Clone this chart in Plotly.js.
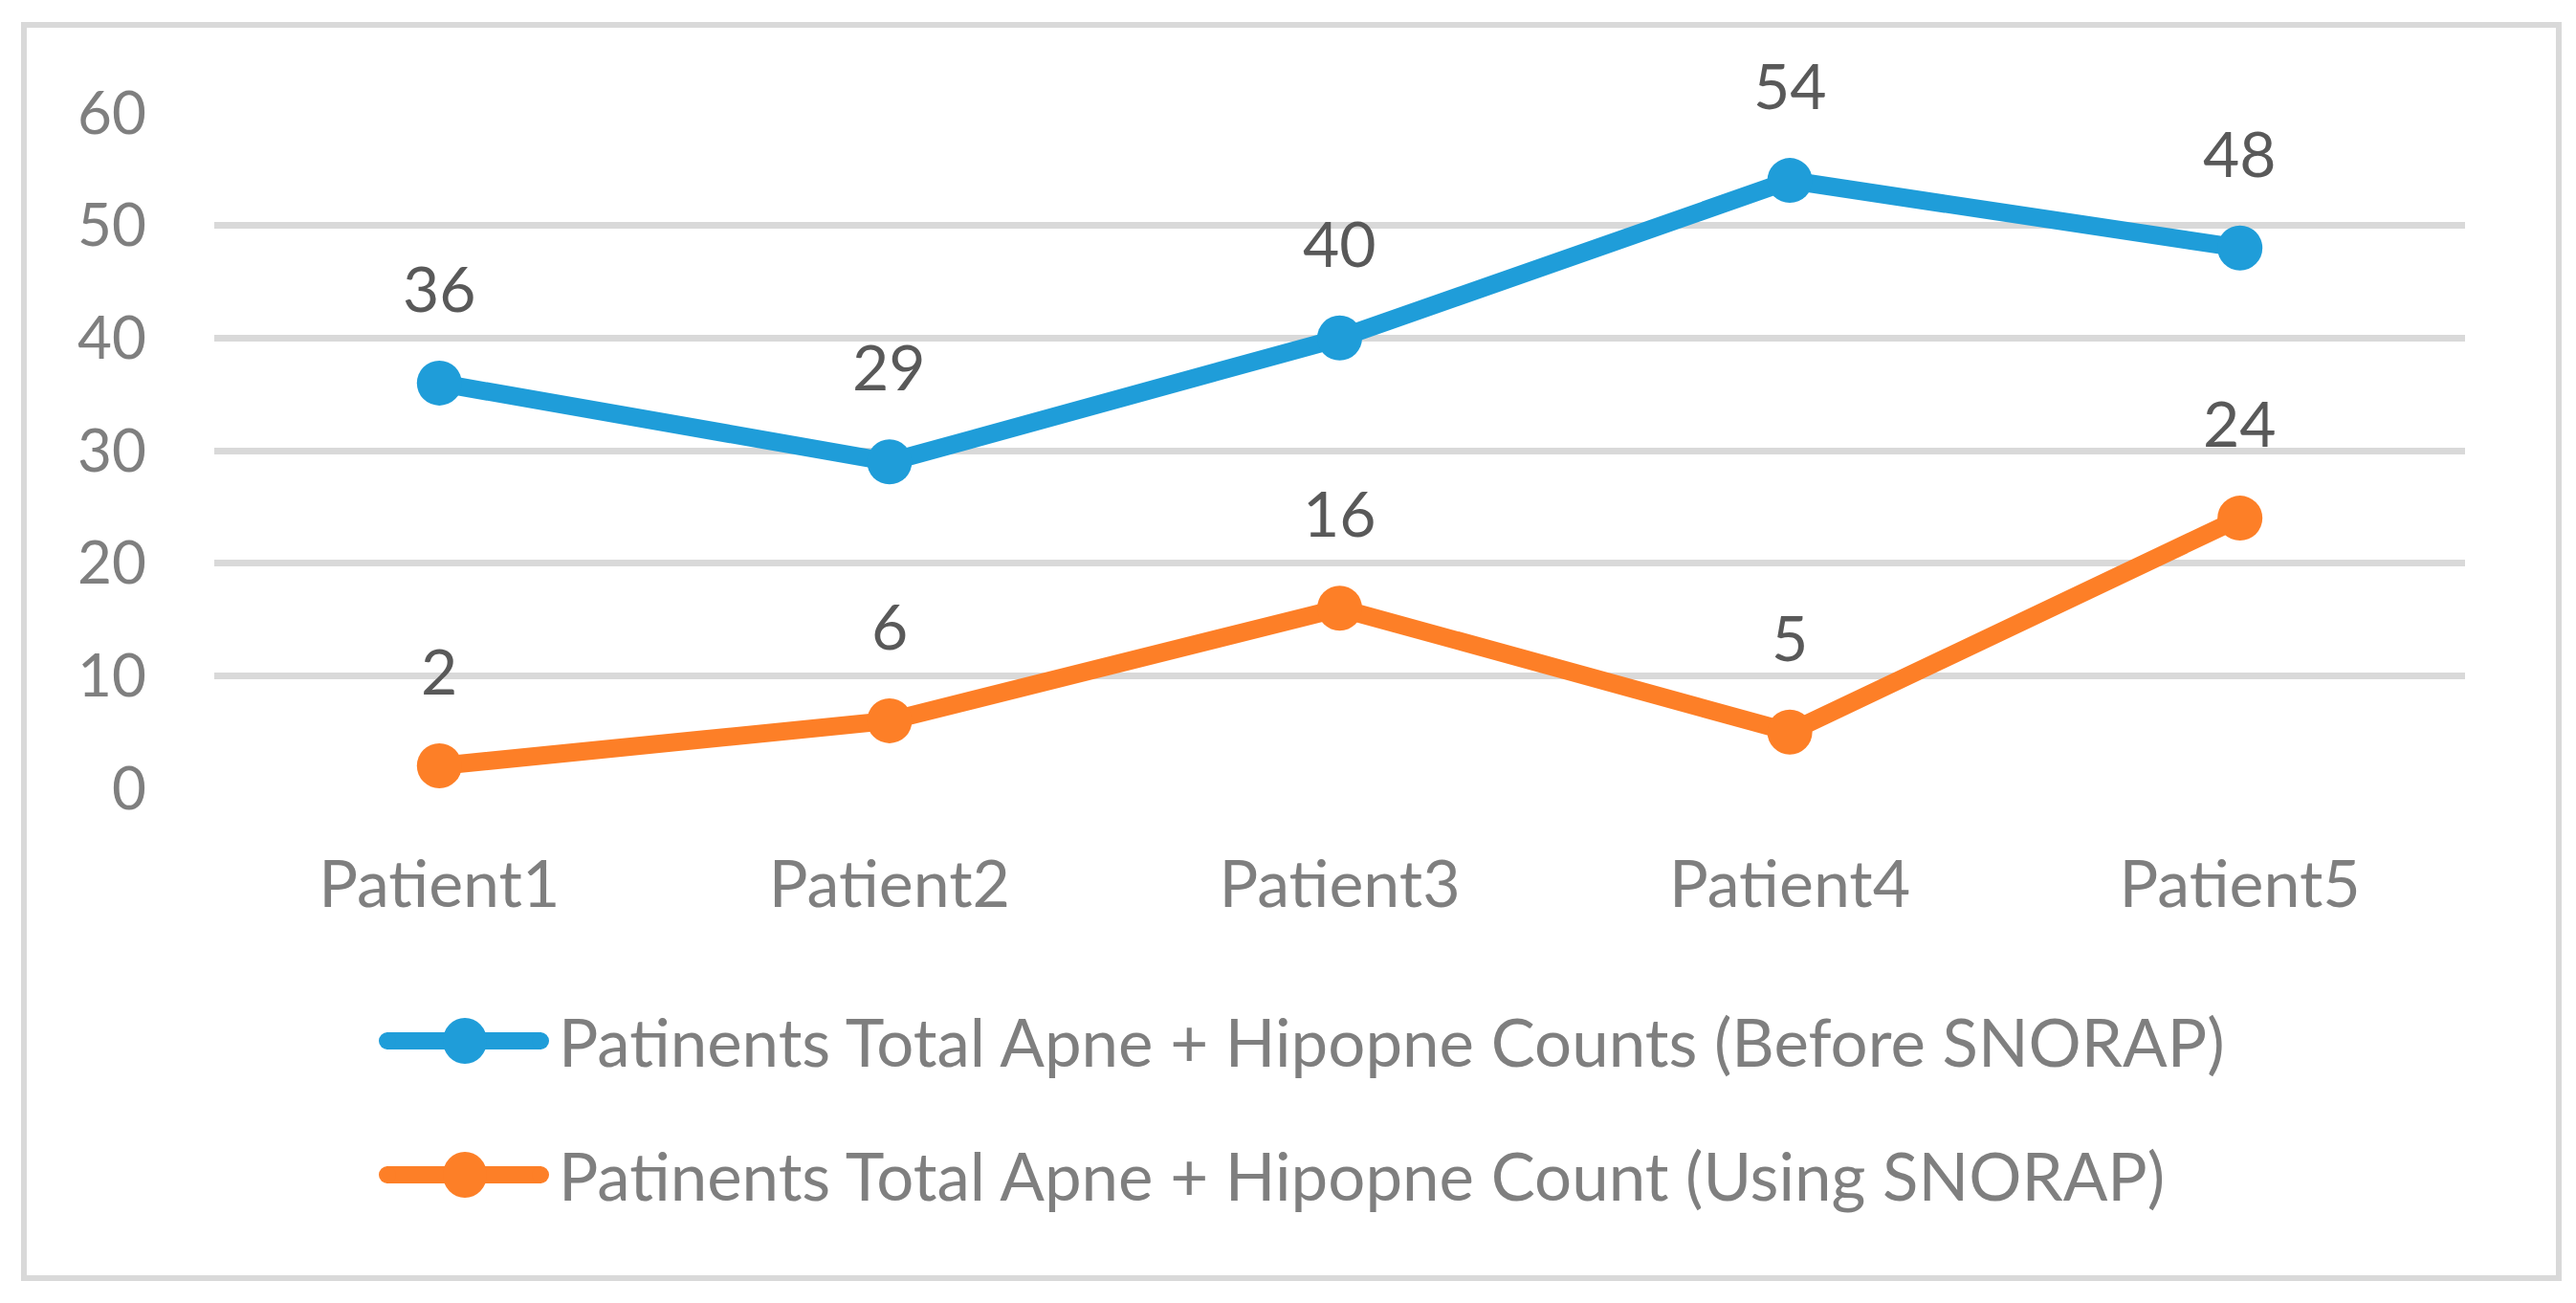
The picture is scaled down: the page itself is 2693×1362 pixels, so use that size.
<!DOCTYPE html>
<html>
<head>
<meta charset="utf-8">
<script src="https://cdn.plot.ly/plotly-3.0.1.min.js"></script>
<style>
  html, body { margin: 0; padding: 0; background: #ffffff; }
  #wrap { position: relative; width: 2693px; height: 1362px; }
  #chart { position: absolute; left: 0; top: 0; width: 2693px; height: 1362px; }
  #frame { position: absolute; left: 22px; top: 23px; width: 2656px; height: 1316px;
           border: 6px solid #d9d9d9; box-sizing: border-box; pointer-events: none; }
</style>
</head>
<body>
<div id="wrap">
  <div id="chart"></div>
  <div id="frame"></div>
</div>
<script>
const categories = ["Patient1", "Patient2", "Patient3", "Patient4", "Patient5"];
const beforeValues = [36, 29, 40, 54, 48];
const usingValues = [2, 6, 16, 5, 24];
const seriesNames = [
  "Patinents Total Apne + Hipopne Counts (Before SNORAP)",
  "Patinents Total Apne + Hipopne Count (Using SNORAP)"
];
const seriesColors = ["#1f9dd9", "#fd7f27"];
const yTicks = [0, 10, 20, 30, 40, 50, 60];

const FONT = "Lato, 'Open Sans', sans-serif";
const seriesValues = [beforeValues, usingValues];

const traces = seriesValues.map((vals, i) => ({
  type: "scatter",
  mode: "lines+markers",
  x: categories,
  y: vals,
  name: seriesNames[i],
  line: { color: seriesColors[i], width: 19 },
  marker: { color: seriesColors[i], size: 47 },
  cliponaxis: false,
  showlegend: false,
  hoverinfo: "x+y"
}));

const annotations = [];
seriesValues.forEach((vals, i) => {
  vals.forEach((v, j) => {
    annotations.push({
      x: categories[j], y: v, xref: "x", yref: "y",
      text: String(v), showarrow: false,
      yanchor: "middle", xanchor: "center", yshift: 100,
      font: { family: FONT, size: 66, color: "#595959" }
    });
  });
});

// custom legend (long line symbol with marker)
const plotL = 224, plotR = 2577, plotT = 118, plotB = 824;
const pw = plotR - plotL, ph = plotB - plotT;
const px = xp => (xp - plotL) / pw;
const py = yp => (plotB - yp) / ph;
const legendY = [1088, 1228];
const shapes = [];
legendY.forEach((ly, i) => {
  shapes.push({
    type: "line", xref: "paper", yref: "paper",
    x0: px(404), x1: px(566), y0: py(ly), y1: py(ly),
    line: { color: seriesColors[i], width: 18 }
  });
  shapes.push({
    type: "circle", xref: "paper", yref: "paper",
    x0: px(396), x1: px(414), y0: py(ly + 9), y1: py(ly - 9),
    fillcolor: seriesColors[i], line: { width: 0 }
  });
  shapes.push({
    type: "circle", xref: "paper", yref: "paper",
    x0: px(556), x1: px(574), y0: py(ly + 9), y1: py(ly - 9),
    fillcolor: seriesColors[i], line: { width: 0 }
  });
  shapes.push({
    type: "circle", xref: "paper", yref: "paper",
    x0: px(486 - 23), x1: px(486 + 23), y0: py(ly + 24), y1: py(ly - 24),
    fillcolor: seriesColors[i], line: { width: 0 }
  });
  annotations.push({
    xref: "paper", yref: "paper", x: px(582), y: py(ly),
    xanchor: "left", yanchor: "middle", showarrow: false,
    text: seriesNames[i],
    font: { family: FONT, size: 69, color: "#7f7f7f" }
  });
});

const layout = {
  width: 2693, height: 1362,
  margin: { l: plotL, r: 2693 - plotR, t: plotT, b: 1362 - plotB, pad: 0 },
  paper_bgcolor: "#ffffff", plot_bgcolor: "#ffffff",
  showlegend: false,
  xaxis: {
    type: "category",
    range: [-0.5, 4.5],
    showgrid: false, zeroline: false, showline: false,
    ticks: "", ticklabelstandoff: 55,
    tickfont: { family: FONT, size: 68, color: "#7f7f7f" },
    fixedrange: true
  },
  yaxis: {
    range: [0, 60],
    tickvals: yTicks,
    ticktext: yTicks.map(String),
    showgrid: true, gridcolor: "#d9d9d9", gridwidth: 7,
    zeroline: false, showline: false,
    ticks: "", ticklabelstandoff: 70,
    tickfont: { family: FONT, size: 62, color: "#7f7f7f" },
    fixedrange: true
  },
  shapes: shapes,
  annotations: annotations
};

Plotly.newPlot("chart", traces, layout, { staticPlot: true, displayModeBar: false });
</script>
</body>
</html>
